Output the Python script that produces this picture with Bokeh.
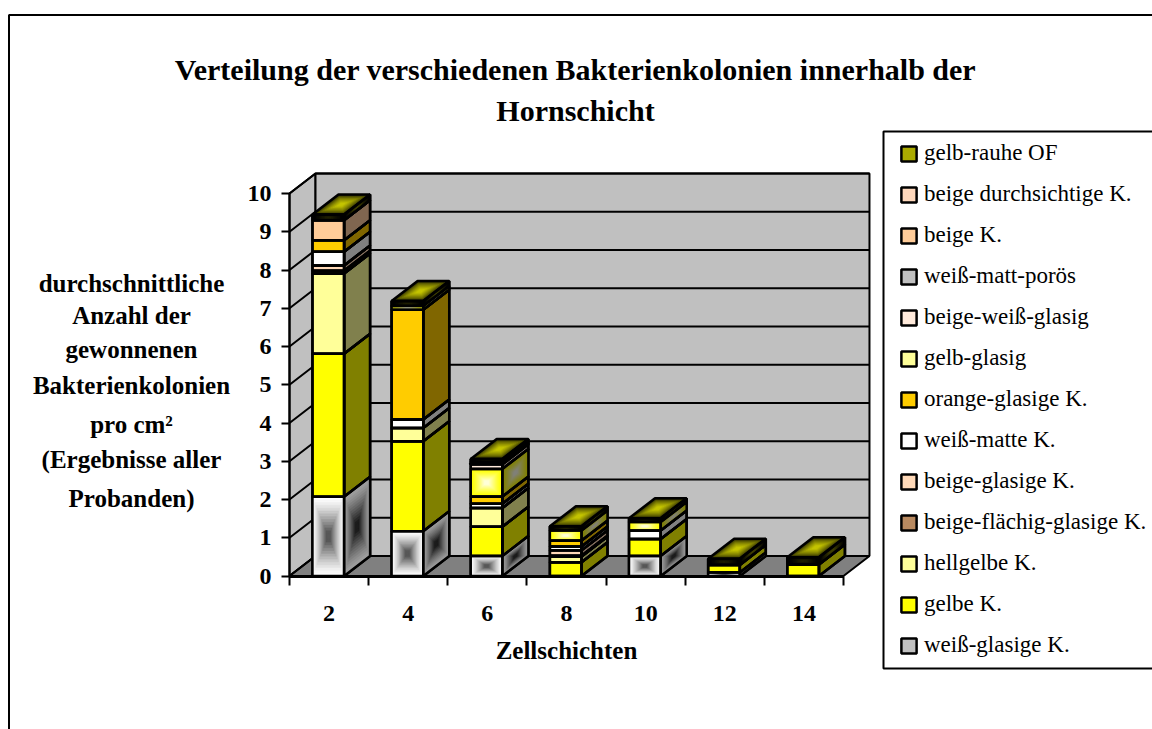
from bokeh.plotting import figure
from bokeh.models import (Range1d, FixedTicker, Label, Legend, LegendItem, BoxAnnotation)
from bokeh.embed import file_html
from bokeh.resources import INLINE

# ---------- data ----------
categories = ["2", "4", "6", "8", "10", "12", "14"]
value_ticks = [0, 1, 2, 3, 4, 5, 6, 7, 8, 9, 10]

weiss_glasig   = [2.07, 1.17, 0.52, 0.00, 0.52, 0.09, 0.00]
gelbe          = [3.74, 2.35, 0.77, 0.36, 0.45, 0.20, 0.30]
hellgelbe      = [2.10, 0.35, 0.49, 0.15, 0.00, 0.00, 0.00]
beige_flaechig = [0.07, 0.00, 0.00, 0.02, 0.00, 0.00, 0.00]
beige_glasig   = [0.14, 0.00, 0.00, 0.14, 0.00, 0.00, 0.00]
weiss_matte    = [0.36, 0.22, 0.11, 0.10, 0.22, 0.00, 0.00]
orange_glasig  = [0.30, 2.87, 0.19, 0.16, 0.00, 0.00, 0.00]
gelb_glasig    = [0.00, 0.10, 0.72, 0.26, 0.22, 0.00, 0.00]
beige_weiss    = [0.00, 0.00, 0.12, 0.00, 0.00, 0.00, 0.00]
weiss_poroes   = [0.00, 0.00, 0.03, 0.00, 0.00, 0.00, 0.00]
beige_k        = [0.52, 0.00, 0.00, 0.00, 0.00, 0.00, 0.00]
beige_durchs   = [0.00, 0.00, 0.03, 0.00, 0.00, 0.00, 0.00]
gelb_rauhe     = [0.15, 0.13, 0.08, 0.11, 0.10, 0.16, 0.19]

series_names = ["weiß-glasige K.", "gelbe K.", "hellgelbe K.", "beige-flächig-glasige K.", "beige-glasige K.",
                "weiß-matte K.", "orange-glasige K.", "gelb-glasig", "beige-weiß-glasig", "weiß-matt-porös",
                "beige K.", "beige durchsichtige K.", "gelb-rauhe OF"]
series_values = [weiss_glasig, gelbe, hellgelbe, beige_flaechig, beige_glasig, weiss_matte, orange_glasig,
                 gelb_glasig, beige_weiss, weiss_poroes, beige_k, beige_durchs, gelb_rauhe]
front_colors = ["#C0C0C0", "#FFFF00", "#FFFF99", "#B98A60", "#FFD9B8", "#FFFFFF", "#FFCC00",
                "#FFFF99", "#FFEADB", "#C0C0C0", "#FFCC99", "#FFD8BC", "#AAAA00"]
side_colors  = ["#808080", "#808000", "#80804D", "#806040", "#806C5C", "#808080", "#806600",
                "#80804D", "#80756E", "#808080", "#806650", "#806C5E", "#808000"]
# series with a "from centre" gradient: front edge, front centre, side edge, side centre
gradients = {
    0:  ("#FFFFFF", "#585858", "#A0A0A0", "#1C1C1C"),
    7:  ("#FFFF00", "#FFFFD8", "#808000", "#808078"),
    12: ("#000000", "#202000", "#000000", "#404000"),
}
top_gradient = ("#000000", "#C4C400")
title_lines = ["Verteilung der verschiedenen Bakterienkolonien innerhalb der", "Hornschicht"]
ylabel_lines = ["durchschnittliche", "Anzahl der", "gewonnenen", "Bakterienkolonien", "pro cm²",
                "(Ergebnisse aller", "Probanden)"]

# ---------- layout ----------
W, H = 1152, 729
OFF = 0            # page position of the canvas
X0, Y0 = 289, 575.5  # page position of the axes' origin
PX, PY = 79.14, 38.25
DX, DY = 26 / PX, 20 / PY
BAR_W = 0.40
BAR_C = 0.49
LW = 2.5
FONT = "Liberation Serif"


def px_x(page_x):
    return (page_x - X0) / PX


def px_y(page_y):
    return (Y0 - page_y) / PY


def hexrgb(c):
    return tuple(int(c[i:i + 2], 16) for i in (1, 3, 5))


def mix(a, b, t):
    a, b = hexrgb(a), hexrgb(b)
    return "#%02X%02X%02X" % tuple(round(a[i] + (b[i] - a[i]) * t) for i in range(3))


p = figure(width=W, height=H, output_backend="svg", toolbar_location=None,
           x_range=Range1d(px_x(OFF), px_x(OFF + W)), y_range=Range1d(px_y(OFF + H), px_y(OFF)),
           min_border=0, background_fill_color="white", border_fill_color="white", outline_line_color=None)
p.grid.visible = False

# axes
n = len(categories)
ax = p.xaxis[0]
ax.fixed_location = 0
ax.ticker = FixedTicker(ticks=[i + 0.5 for i in range(n)], minor_ticks=list(range(n + 1)))
ax.major_label_overrides = {i + 0.5: c for i, c in enumerate(categories)}
ax.bounds = (0, n)
ax.major_tick_in = 0
ax.major_tick_out = 0
ax.minor_tick_in = 0
ax.minor_tick_out = 9
ax.minor_tick_line_color = "black"
ax.minor_tick_line_width = 2
ax.axis_line_color = "black"
ax.axis_line_width = 3
ax.major_label_text_color = "black"
ax.major_label_text_font = FONT
ax.major_label_text_font_style = "bold"
ax.major_label_text_font_size = "24px"
ax.major_label_standoff = 21
ax.axis_label = "Zellschichten"
ax.axis_label_text_color = "black"
ax.axis_label_text_font = FONT
ax.axis_label_text_font_style = "bold"
ax.axis_label_text_font_size = "25px"
ax.axis_label_standoff = 12

ay = p.yaxis[0]
ay.fixed_location = 0
ay.ticker = FixedTicker(ticks=value_ticks, minor_ticks=[])
ay.bounds = (0, 10)
ay.major_tick_in = 0
ay.major_tick_out = 8
ay.major_tick_line_color = "black"
ay.major_tick_line_width = 2
ay.axis_line_color = "black"
ay.axis_line_width = 2
ay.major_label_text_color = "black"
ay.major_label_text_font = FONT
ay.major_label_text_font_style = "bold"
ay.major_label_text_font_size = "24px"
ay.major_label_standoff = 10

# walls and floor
top = value_ticks[-1]
p.patch([0, DX, DX, 0], [0, DY, top + DY, top], fill_color="#C0C0C0", line_color="black", line_width=2)
p.patch([DX, n + DX, n + DX, DX], [DY, DY, top + DY, top + DY], fill_color="#C0C0C0", line_color="black", line_width=2)
p.patch([0, n, n + DX, DX], [0, 0, DY, DY], fill_color="#808080", line_color="black", line_width=2)
p.multi_line([[0, DX, n + DX] for _ in value_ticks], [[v, v + DY, v + DY] for v in value_ticks],
             line_color="black", line_width=2)


def nested(corners, c_edge, c_mid, steps=14, power=1.0):
    """concentric copies of a face, shrunk to its centre"""
    cx = sum(c[0] for c in corners) / 4
    cy = sum(c[1] for c in corners) / 4
    out = []
    for k in range(steps):
        t = k / steps
        out.append(([cx + (c[0] - cx) * (1 - t) for c in corners],
                    [cy + (c[1] - cy) * (1 - t) for c in corners],
                    mix(c_edge, c_mid, min(1, (t / 0.85) ** power))))
    return out


grad_xs, grad_ys, grad_cs = [], [], []
out_xs, out_ys = [], []
sides = {i: ([], []) for i in range(len(series_values))}
fronts = {i: ([], [], [], []) for i in range(len(series_values))}


def add_grad(corners, c_edge, c_mid, power=1.0):
    for xs, ys, c in nested(corners, c_edge, c_mid, power=power):
        grad_xs.append(xs)
        grad_ys.append(ys)
        grad_cs.append(c)


for b in range(n):
    x0 = b + BAR_C - BAR_W / 2
    x1 = b + BAR_C + BAR_W / 2
    base = 0.0
    for s, vals in enumerate(series_values):
        v = vals[b]
        if v <= 0:
            continue
        y0, y1 = base, base + v
        fl, fr, fb, ft = fronts[s]
        fl.append(x0); fr.append(x1); fb.append(y0); ft.append(y1)
        side = [(x1, y0), (x1 + DX, y0 + DY), (x1 + DX, y1 + DY), (x1, y1)]
        sides[s][0].append([c[0] for c in side])
        sides[s][1].append([c[1] for c in side])
        if s in gradients:
            g = gradients[s]
            add_grad([(x0, y0), (x1, y0), (x1, y1), (x0, y1)], g[0], g[1], 1.3)
            add_grad(side, g[2], g[3], 1.3)
        out_xs += [[x0, x1, x1, x0], [c[0] for c in side]]
        out_ys += [[y0, y0, y1, y1], [c[1] for c in side]]
        base = y1
    cap = [(x0, base), (x1, base), (x1 + DX, base + DY), (x0 + DX, base + DY)]
    add_grad(cap, top_gradient[0], top_gradient[1], 0.6)
    out_xs.append([c[0] for c in cap])
    out_ys.append([c[1] for c in cap])

renderers = []
for s, name in enumerate(series_names):
    fl, fr, fb, ft = fronts[s]
    p.patches(sides[s][0], sides[s][1], fill_color=side_colors[s], line_color="black", line_width=LW)
    r = p.quad(left=fl, right=fr, bottom=fb, top=ft, fill_color=front_colors[s], line_color="black", line_width=LW)
    renderers.append(r)

p.patches(grad_xs, grad_ys, fill_color=grad_cs, line_color=grad_cs, line_width=0.5)
p.patches(out_xs, out_ys, fill_color=None, line_color="black", line_width=LW)

# outer chart border
p.add_layout(BoxAnnotation(left=px_x(8.5), right=px_x(1400), top=px_y(14.5), bottom=px_y(900),
                           fill_color=None, fill_alpha=0, line_color="black", line_alpha=1, line_width=2))
# legend box
p.add_layout(BoxAnnotation(left=px_x(883), right=px_x(1400), top=px_y(131), bottom=px_y(668),
                           fill_color="white", fill_alpha=1, line_color="black", line_alpha=1, line_width=2))

# legend
items = [LegendItem(label=name, renderers=[r]) for name, r in zip(series_names, renderers)][::-1]
legend = Legend(items=items, location=(899, 71), margin=0, padding=0,
                glyph_width=19, glyph_height=19, label_width=230, label_height=20, spacing=15,
                label_standoff=6, label_text_font=FONT, label_text_font_size="23px", label_text_color="black",
                border_line_color=None, background_fill_alpha=0)
p.add_layout(legend)

# texts
for txt, py in zip(title_lines, [69, 110]):
    p.add_layout(Label(x=px_x(575), y=px_y(py), text=txt, text_align="center", text_baseline="middle",
                       text_color="black", text_font=FONT, text_font_style="bold", text_font_size="30px"))
for txt, py in zip(ylabel_lines, [283, 315, 349, 385, 424, 459, 498]):
    p.add_layout(Label(x=px_x(131), y=px_y(py), text=txt, text_align="center", text_baseline="middle",
                       text_color="black", text_font=FONT, text_font_style="bold", text_font_size="25px"))

open("out.html", "w").write(file_html(p, INLINE))
